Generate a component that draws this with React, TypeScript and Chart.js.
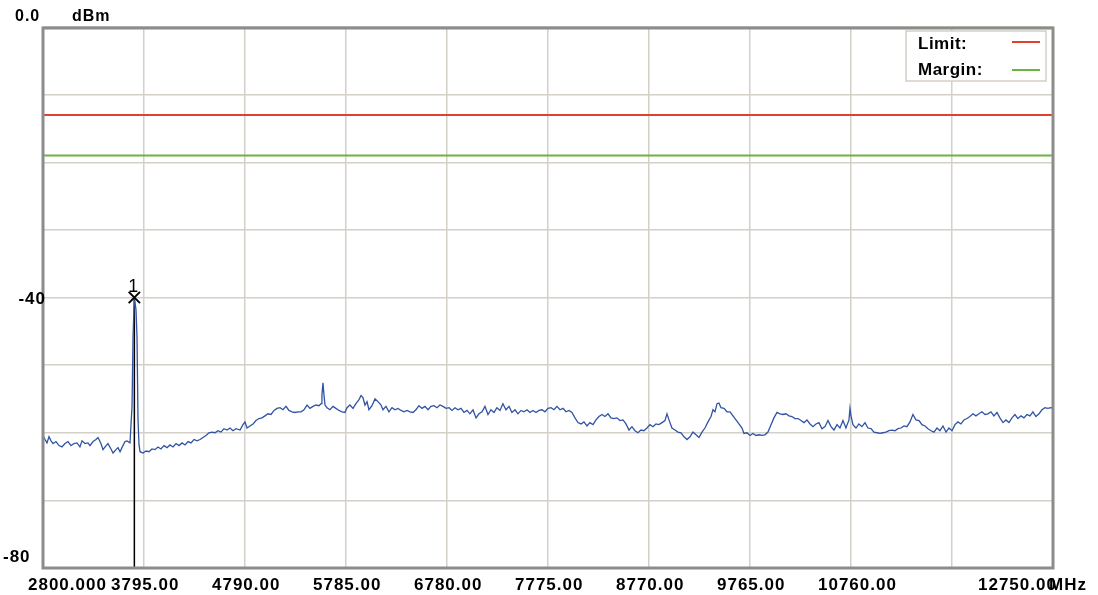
import React, { useEffect, useRef } from "react";
import { Chart, registerables } from "chart.js";

Chart.register(...registerables);

// ---- data ----
const freqs: number[] = [
  2800, 2820, 2839, 2859, 2879, 2899, 2928, 2958, 2987, 3017,
  3046, 3076, 3105, 3135, 3164, 3184, 3214, 3243, 3263, 3293,
  3322, 3342, 3371, 3391, 3421, 3440, 3470, 3490, 3519, 3539,
  3559, 3578, 3608, 3627, 3657, 3667, 3677, 3687, 3700, 3716,
  3726, 3736, 3746, 3756, 3785, 3815, 3844, 3874, 3903, 3933,
  3962, 3992, 4022, 4051, 4081, 4111, 4140, 4170, 4199, 4229,
  4258, 4288, 4317, 4347, 4376, 4406, 4435, 4465, 4494, 4524,
  4553, 4583, 4613, 4642, 4672, 4701, 4741, 4770, 4790, 4810,
  4839, 4869, 4898, 4928, 4957, 4987, 5016, 5046, 5076, 5105,
  5135, 5164, 5194, 5223, 5253, 5282, 5312, 5342, 5371, 5401,
  5430, 5460, 5489, 5519, 5539, 5548, 5558, 5568, 5578, 5598,
  5627, 5657, 5686, 5716, 5745, 5775, 5795, 5824, 5854, 5883,
  5913, 5933, 5952, 5972, 5992, 6011, 6041, 6071, 6100, 6130,
  6149, 6179, 6208, 6238, 6268, 6297, 6327, 6356, 6386, 6415,
  6445, 6474, 6504, 6534, 6563, 6593, 6622, 6652, 6681, 6711,
  6740, 6770, 6800, 6829, 6859, 6888, 6918, 6947, 6977, 7006,
  7036, 7066, 7095, 7125, 7154, 7184, 7213, 7243, 7272, 7302,
  7331, 7361, 7391, 7420, 7450, 7479, 7509, 7538, 7568, 7597,
  7627, 7657, 7686, 7716, 7745, 7775, 7804, 7834, 7863, 7893,
  7923, 7952, 7982, 8011, 8041, 8070, 8100, 8129, 8159, 8188,
  8218, 8248, 8277, 8307, 8336, 8366, 8395, 8425, 8454, 8484,
  8514, 8543, 8573, 8602, 8632, 8661, 8691, 8720, 8750, 8780,
  8809, 8839, 8868, 8898, 8927, 8947, 8967, 8996, 9026, 9055,
  9085, 9115, 9144, 9174, 9203, 9233, 9262, 9292, 9321, 9351,
  9381, 9400, 9420, 9440, 9459, 9479, 9509, 9538, 9568, 9597,
  9627, 9656, 9686, 9706, 9735, 9765, 9794, 9824, 9853, 9883,
  9912, 9942, 9972, 10001, 10031, 10060, 10090, 10119, 10149, 10178,
  10208, 10238, 10267, 10297, 10326, 10356, 10385, 10415, 10444, 10474,
  10504, 10533, 10563, 10592, 10622, 10651, 10681, 10710, 10740, 10750,
  10760, 10779, 10809, 10838, 10868, 10898, 10927, 10957, 10986, 11016,
  11045, 11075, 11104, 11134, 11164, 11193, 11223, 11252, 11282, 11311,
  11341, 11370, 11400, 11430, 11459, 11489, 11518, 11548, 11577, 11607,
  11636, 11666, 11696, 11725, 11755, 11784, 11814, 11843, 11873, 11902,
  11932, 11961, 11991, 12020, 12050, 12080, 12109, 12139, 12168, 12198,
  12227, 12257, 12286, 12316, 12346, 12375, 12405, 12434, 12464, 12493,
  12523, 12552, 12582, 12612, 12641, 12671, 12700, 12730, 12750,
];

const levels: number[] = [
  -60.4, -61.0, -61.5, -60.6, -61.2, -61.6, -61.3, -61.9, -62.1, -61.6,
  -61.3, -61.9, -61.6, -61.5, -62.1, -61.2, -61.6, -61.5, -61.9, -61.3,
  -61.0, -60.7, -61.6, -62.5, -61.9, -61.6, -62.4, -63.0, -62.5, -62.2,
  -62.8, -62.2, -61.3, -61.2, -61.5, -58.8, -56.1, -45.8, -40.0, -41.8,
  -45.8, -58.1, -61.8, -62.8, -63.0, -62.7, -62.8, -62.4, -62.5, -62.1,
  -62.4, -61.9, -62.2, -61.8, -62.1, -61.6, -61.9, -61.5, -61.8, -61.3,
  -61.5, -61.0, -61.2, -61.0, -60.7, -60.4, -60.0, -59.9, -60.0, -59.7,
  -59.9, -59.4, -59.6, -59.3, -59.7, -59.4, -59.6, -58.8, -58.4, -59.3,
  -59.0, -58.7, -58.2, -57.9, -57.8, -57.5, -57.2, -57.3, -56.7, -56.4,
  -56.3, -56.6, -56.1, -56.7, -56.9, -57.0, -56.9, -56.9, -56.6, -55.9,
  -56.4, -56.1, -55.9, -56.0, -55.7, -54.4, -52.6, -54.4, -55.9, -56.3,
  -56.6, -56.1, -56.4, -56.7, -56.9, -57.0, -56.3, -55.9, -56.4, -55.7,
  -55.1, -54.5, -54.8, -55.9, -55.4, -56.6, -56.0, -55.0, -55.4, -55.9,
  -56.6, -56.1, -56.9, -56.3, -56.6, -56.4, -56.7, -56.9, -56.7, -56.9,
  -57.0, -56.6, -56.0, -56.4, -56.1, -56.6, -56.1, -56.0, -56.3, -55.9,
  -56.1, -56.4, -56.3, -56.7, -56.3, -56.6, -56.4, -57.0, -56.7, -57.2,
  -56.6, -57.8, -57.2, -56.9, -56.1, -57.3, -56.6, -57.0, -56.3, -56.7,
  -55.7, -56.6, -56.1, -57.0, -56.6, -57.2, -56.7, -56.9, -56.6, -57.0,
  -56.7, -57.0, -56.7, -56.6, -56.9, -56.4, -56.3, -56.6, -56.1, -56.6,
  -56.4, -56.9, -56.7, -57.0, -57.8, -58.5, -58.7, -58.4, -59.0, -58.5,
  -58.8, -58.1, -57.6, -57.3, -57.6, -57.2, -57.8, -57.9, -57.8, -58.2,
  -58.1, -58.7, -59.6, -59.1, -59.7, -60.0, -59.6, -59.7, -59.3, -58.8,
  -59.1, -58.7, -58.8, -58.5, -58.2, -57.2, -58.1, -59.3, -59.6, -59.9,
  -60.0, -60.6, -61.0, -60.6, -59.9, -60.3, -60.7, -59.9, -59.3, -58.4,
  -57.6, -56.6, -56.9, -55.7, -55.6, -56.3, -56.4, -56.9, -56.9, -57.5,
  -58.1, -58.7, -59.3, -60.1, -60.0, -60.4, -60.1, -60.4, -60.3, -60.4,
  -60.3, -59.9, -58.8, -57.8, -57.0, -57.2, -57.3, -57.2, -57.5, -57.6,
  -57.9, -57.9, -58.2, -58.5, -58.1, -58.7, -59.1, -58.7, -58.5, -59.4,
  -59.1, -58.2, -59.1, -59.6, -58.8, -59.3, -58.2, -59.3, -58.1, -56.4,
  -57.5, -58.8, -59.3, -58.7, -59.1, -58.5, -59.3, -59.4, -59.9, -60.0,
  -60.1, -60.0, -59.9, -59.7, -59.6, -59.7, -59.4, -59.3, -59.0, -59.1,
  -58.4, -57.3, -58.1, -58.2, -58.8, -59.0, -59.4, -59.7, -59.9, -59.3,
  -59.7, -59.0, -59.9, -59.3, -59.7, -58.8, -58.4, -58.7, -58.1, -57.9,
  -57.6, -57.2, -57.5, -57.2, -56.9, -57.3, -57.2, -56.9, -57.5, -57.0,
  -57.8, -58.5, -58.1, -58.5, -57.8, -57.3, -57.9, -57.5, -57.8, -57.3,
  -57.5, -56.9, -57.6, -57.2, -56.6, -56.3, -56.4, -56.3, -56.3,
];

const limitLevel = -13;
const marginLevel = -19;
const markerFreq = 3700;
const markerLevel = -40;
const markerName = "1";

const xTickValues: number[] = [2800, 3795, 4790, 5785, 6780, 7775, 8770, 9765, 10760, 11755, 12750];
const xTickLabels: string[] = ["2800.000", "3795.00", "4790.00", "5785.00", "6780.00", "7775.00", "8770.00", "9765.00", "10760.00", "", "12750.00"];
const xUnit = "MHz";
const yTickValues: number[] = [-80, -70, -60, -50, -40, -30, -20, -10, 0];
const yTopLabel = "0.0";
const yUnit = "dBm";
const yMidLabel = "-40";
const yBottomLabel = "-80";
const legendNames: string[] = ["Limit:", "Margin:"];

const X_MIN = 2800;
const X_MAX = 12750;
const Y_MIN = -80;
const Y_MAX = 0;

const FONT = '"Liberation Sans", Arial, sans-serif';
const RED = "#e0402f";
const GREEN = "#6db33f";
const BLUE = "#3053a3";
const GRID = "#d4d0c8";

const overlay = {
  id: "overlay",
  afterDatasetsDraw(chart: any) {
    const ctx = chart.ctx as CanvasRenderingContext2D;
    const { left, top, right, bottom } = chart.chartArea;
    const xs = chart.scales.x;
    const ys = chart.scales.y;
    ctx.save();
    // frame
    ctx.strokeStyle = "#8c8c8c";
    ctx.lineWidth = 3;
    ctx.strokeRect(left, top + 1, right - left, bottom - top - 1);

    ctx.fillStyle = "#000";
    (ctx as any).letterSpacing = "1px";
    ctx.textBaseline = "alphabetic";

    // x labels
    ctx.font = `bold 17px ${FONT}`;
    ctx.textAlign = "left";
    xTickValues.forEach((v, i) => {
      const lbl = xTickLabels[i];
      if (!lbl) return;
      const px = xs.getPixelForValue(v);
      let lx = px - 33;
      if (i === 0) lx = px - 15;
      if (i === xTickValues.length - 1) lx = px - 75;
      ctx.fillText(lbl, lx, 590);
    });
    ctx.fillText(xUnit, xs.getPixelForValue(X_MAX) - 4, 590);

    // y labels
    ctx.font = `bold 17px ${FONT}`;
    ctx.textAlign = "right";
    ctx.fillText(yMidLabel, left + 3, ys.getPixelForValue(-40) + 6);
    ctx.textAlign = "left";
    ctx.fillText(yBottomLabel, 3, ys.getPixelForValue(-80) - 6);
    ctx.font = `bold 16px ${FONT}`;
    ctx.fillText(yTopLabel, 15, ys.getPixelForValue(0) - 6);
    ctx.fillText(yUnit, 72, ys.getPixelForValue(0) - 6);

    // marker label
    ctx.font = `18px ${FONT}`;
    (ctx as any).letterSpacing = "0px";
    ctx.textAlign = "center";
    ctx.fillText(markerName, xs.getPixelForValue(markerFreq) - 1, ys.getPixelForValue(markerLevel) - 6);

    // legend
    const bx = right - 147;
    const by = top + 4;
    ctx.fillStyle = "#fff";
    ctx.fillRect(bx, by, 140, 50);
    ctx.strokeStyle = GRID;
    ctx.lineWidth = 1.5;
    ctx.strokeRect(bx, by, 140, 50);
    ctx.fillStyle = "#000";
    ctx.font = `bold 17px ${FONT}`;
    (ctx as any).letterSpacing = "0.5px";
    ctx.textAlign = "left";
    ctx.fillText(legendNames[0], bx + 12, by + 18);
    ctx.fillText(legendNames[1], bx + 12, by + 44);
    ctx.lineWidth = 2;
    ctx.strokeStyle = RED;
    ctx.beginPath();
    ctx.moveTo(bx + 106, by + 11);
    ctx.lineTo(bx + 134, by + 11);
    ctx.stroke();
    ctx.strokeStyle = GREEN;
    ctx.beginPath();
    ctx.moveTo(bx + 106, by + 39);
    ctx.lineTo(bx + 134, by + 39);
    ctx.stroke();
    ctx.restore();
  },
};

export default function App() {
  const ref = useRef<HTMLCanvasElement>(null);
  useEffect(() => {
    const pts = freqs.map((f, i) => ({ x: f, y: levels[i] }));
    const chart = new Chart(ref.current as HTMLCanvasElement, {
      type: "line",
      data: {
        datasets: [
          {
            label: "marker",
            data: [{ x: markerFreq, y: markerLevel }],
            showLine: false,
            pointStyle: "crossRot",
            pointRadius: 8,
            borderColor: "#000",
            backgroundColor: "#000",
            borderWidth: 2,
            order: 0,
          },
          {
            label: "trace",
            data: pts,
            borderColor: BLUE,
            borderWidth: 1.3,
            pointRadius: 0,
            tension: 0,
            order: 1,
          },
          {
            label: "markerLine",
            data: [{ x: markerFreq, y: markerLevel }, { x: markerFreq, y: Y_MIN }],
            borderColor: "#000",
            borderWidth: 1.5,
            pointRadius: 0,
            order: 2,
          },
          {
            label: "Limit",
            data: [{ x: X_MIN, y: limitLevel }, { x: X_MAX, y: limitLevel }],
            borderColor: RED,
            borderWidth: 2,
            pointRadius: 0,
            order: 3,
          },
          {
            label: "Margin",
            data: [{ x: X_MIN, y: marginLevel }, { x: X_MAX, y: marginLevel }],
            borderColor: GREEN,
            borderWidth: 2,
            pointRadius: 0,
            order: 4,
          },
        ],
      } as any,
      options: {
        responsive: false,
        animation: false,
        events: [],
        layout: { padding: { left: 43, right: 45, top: 27, bottom: 27 } },
        plugins: { legend: { display: false }, tooltip: { enabled: false } },
        scales: {
          x: {
            type: "linear",
            min: X_MIN,
            max: X_MAX,
            ticks: { display: false },
            grid: { color: GRID, lineWidth: 1.5, drawTicks: false },
            border: { display: false },
            afterBuildTicks: (s: any) => {
              s.ticks = xTickValues.map((v) => ({ value: v }));
            },
            afterFit: (s: any) => {
              s.height = 0;
            },
          },
          y: {
            type: "linear",
            min: Y_MIN,
            max: Y_MAX,
            ticks: { display: false },
            grid: { color: GRID, lineWidth: 1.5, drawTicks: false },
            border: { display: false },
            afterBuildTicks: (s: any) => {
              s.ticks = yTickValues.map((v) => ({ value: v }));
            },
            afterFit: (s: any) => {
              s.width = 0;
            },
          },
        },
      } as any,
      plugins: [overlay],
    });
    return () => chart.destroy();
  }, []);
  return (
    <div style={{ position: "fixed", left: 0, top: 0, width: 1098, height: 595, background: "#fff" }}>
      <canvas ref={ref} width={1098} height={595} style={{ display: "block" }} />
    </div>
  );
}
